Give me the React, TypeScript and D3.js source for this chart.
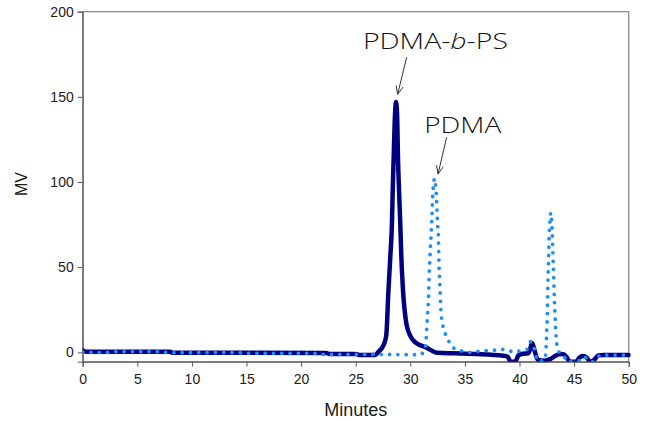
import React, { useEffect, useRef } from 'react';
import * as d3 from 'd3';

// PDMA-b-PS trace (solid navy)
const copolyTime = [0, 0.3, 8, 8.2, 22.3, 22.6, 25, 25.3, 26.8, 27.1, 27.4, 27.6, 27.8, 28.0, 28.17, 28.32, 28.39, 28.48, 28.57, 28.7, 28.8, 28.87, 28.97, 29.08, 29.18, 29.33, 29.63, 29.9, 30.25, 30.8, 31.3, 32.5, 34, 36, 38.5, 38.9, 39.2, 39.6, 39.9, 40.3, 40.8, 41.0, 41.15, 41.3, 41.45, 41.7, 42.3, 42.8, 43.25, 43.6, 43.9, 44.3, 44.6, 45.2, 45.5, 45.8, 46.1, 46.5, 46.9, 47.2, 47.7, 50];
const copolyMV = [1.2, 0.4, 0.4, -0.2, -0.4, -1.0, -1.0, -1.5, -1.5, 0.5, 2.5, 5, 10, 36.6, 56, 76, 95, 115, 135, 147, 138, 115, 95, 76, 56, 36.6, 17.2, 11, 7.2, 4.5, 3.3, -0.3, -0.6, -1, -2, -2.5, -5.5, -5.5, -1.8, -0.8, -0.5, 2.5, 5.5, 3, -0.6, -4.5, -5, -4, -2.2, -1.2, -1, -2.6, -5.5, -5.5, -3, -2.2, -2.8, -5.5, -4, -1.8, -1.5, -1.5];

// PDMA trace (dotted blue)
const homoTime = [0, 2, 3, 7, 8, 14, 15, 21.5, 22, 26, 30.9, 31.35, 31.44, 31.5, 31.56, 31.65, 31.7, 31.74, 31.8, 31.87, 31.93, 32.0, 32.05, 32.12, 32.22, 32.33, 32.42, 32.5, 32.56, 32.63, 32.72, 32.8, 32.97, 33.2, 33.5, 33.9, 34.7, 35.6, 36.4, 37.1, 37.9, 38.7, 39.4, 40.2, 40.7, 41.0, 41.3, 41.5, 41.65, 42.2, 42.4, 42.48, 42.55, 42.6, 42.68, 42.73, 42.8, 42.87, 42.95, 43.0, 43.1, 43.2, 43.3, 43.45, 43.6, 44.0, 44.2, 44.4, 45.4, 45.8, 46.2, 46.7, 47.1, 47.4, 50];
const homoMV = [0.3, -0.2, 0.4, 0.4, -0.2, -0.2, -0.6, -0.6, -1.2, -1.2, -1.4, 2.3, 7, 13, 20, 30, 38.5, 47, 56, 65, 72, 83, 92, 98, 102, 97, 88, 75, 70, 52, 37.6, 25, 16, 11, 6.8, 2.9, 0.8, 0, 0.8, 1, 1.35, 1.8, 0.35, 1, 1.8, 6.2, 3.3, -1.6, -5, -5, -1, 10, 23, 40, 58, 70, 78, 82, 76, 70, 50, 31, 15, 3.3, 0.4, -1.6, -3.5, -5.5, -5, -2.6, -3.5, -5.5, -3.5, -1.6, -1.6];

const xTicks = [0, 5, 10, 15, 20, 25, 30, 35, 40, 45, 50];
const yTicks = [0, 50, 100, 150, 200];

// annotations: [label time, label MV, arrow start t, arrow start MV, arrow tip t, arrow tip MV]
const labelCopoly = [32.3, 178, 29.67, 173.3, 28.84, 151.5];
const labelHomo = [34.8, 128.7, 33.33, 126.3, 32.54, 104.7];

export default function App() {
  const svgRef = useRef<SVGSVGElement>(null);

  useEffect(() => {
    const width = 649;
    const height = 421;
    const margin = { top: 11.7, right: 20.3, bottom: 59.3, left: 82.7 };
    const innerW = width - margin.left - margin.right;
    const innerH = height - margin.top - margin.bottom;

    const svg = d3.select(svgRef.current);
    svg.selectAll('*').remove();
    svg.attr('width', width).attr('height', height);
    svg.append('rect').attr('width', width).attr('height', height).attr('fill', '#fff');

    const g = svg.append('g').attr('transform', `translate(${margin.left},${margin.top})`);

    const x = d3.scaleLinear().domain([0, 50]).range([0, innerW]);
    const y = d3.scaleLinear().domain([-5.5, 200]).range([innerH, 0]);

    svg.append('defs').append('clipPath').attr('id', 'plot-clip')
      .append('rect').attr('x', 0).attr('y', -4).attr('width', innerW + 2).attr('height', innerH + 4);

    // frame
    g.append('rect').attr('width', innerW).attr('height', innerH)
      .attr('fill', 'none').attr('stroke', '#8a8a8a').attr('stroke-width', 1.3);

    const font = 'Liberation Sans, Arial, sans-serif';

    // axes
    const yAxis = g.append('g').call(d3.axisLeft(y).tickValues(yTicks).tickSize(5).tickPadding(4));
    const xAxis = g.append('g').attr('transform', `translate(0,${innerH})`)
      .call(d3.axisBottom(x).tickValues(xTicks).tickSize(5).tickPadding(7));
    [yAxis, xAxis].forEach(ax => {
      ax.select('.domain').attr('stroke', '#555');
      ax.selectAll('line').attr('stroke', '#555');
      ax.selectAll('text').attr('font-family', font).attr('font-size', '14px').attr('fill', '#1a1a1a');
    });

    // series
    const line = (ts: number[], vs: number[]) => d3.line<number>()
      .x((_, i) => x(ts[i])).y(d => y(d)).curve(d3.curveMonotoneX)(vs);

    const plot = g.append('g').attr('clip-path', 'url(#plot-clip)');
    plot.append('path').attr('d', line(copolyTime, copolyMV) as string)
      .attr('fill', 'none').attr('stroke', '#000080').attr('stroke-width', 4.5)
      .attr('stroke-linejoin', 'round').attr('stroke-linecap', 'round');
    plot.append('path').attr('d', line(homoTime, homoMV) as string)
      .attr('fill', 'none').attr('stroke', '#1C8CFF').attr('stroke-width', 3.8)
      .attr('stroke-dasharray', '0 8.3').attr('stroke-linecap', 'round');

    // axis titles
    g.append('text').attr('x', innerW / 2).attr('y', innerH + 54)
      .attr('text-anchor', 'middle').attr('font-family', font).attr('font-size', '18px').attr('fill', '#1a1a1a')
      .text('Minutes');
    g.append('text').attr('transform', 'rotate(-90)').attr('x', -(y(100) + 2)).attr('y', -56)
      .attr('text-anchor', 'middle').attr('font-family', font).attr('font-size', '16px').attr('fill', '#1a1a1a')
      .text('MV');

    // annotations
    const annFont = 'Open Sans, Noto Sans, sans-serif';
    const arrow = (a: number[]) => {
      const x1 = x(a[2]), y1 = y(a[3]), x2 = x(a[4]), y2 = y(a[5]);
      const ang = Math.atan2(y2 - y1, x2 - x1);
      const len = 9, spread = 0.4;
      g.append('line').attr('x1', x1).attr('y1', y1).attr('x2', x2).attr('y2', y2)
        .attr('stroke', '#333').attr('stroke-width', 1);
      g.append('path')
        .attr('d', `M${x2 - len * Math.cos(ang - spread)},${y2 - len * Math.sin(ang - spread)}L${x2},${y2}L${x2 - len * Math.cos(ang + spread)},${y2 - len * Math.sin(ang + spread)}`)
        .attr('fill', 'none').attr('stroke', '#333').attr('stroke-width', 1);
    };

    const t1 = g.append('text').attr('x', x(labelCopoly[0])).attr('y', y(labelCopoly[1]))
      .attr('text-anchor', 'middle').attr('font-family', annFont).attr('font-weight', 300)
      .attr('font-size', '22px').attr('fill', '#111')
      .attr('textLength', 145).attr('lengthAdjust', 'spacingAndGlyphs');
    t1.append('tspan').text('PDMA-');
    t1.append('tspan').attr('font-style', 'italic').text('b');
    t1.append('tspan').text('-PS');
    arrow(labelCopoly);

    g.append('text').attr('x', x(labelHomo[0])).attr('y', y(labelHomo[1]))
      .attr('text-anchor', 'middle').attr('font-family', annFont).attr('font-weight', 300)
      .attr('font-size', '22px').attr('fill', '#111')
      .attr('textLength', 77).attr('lengthAdjust', 'spacingAndGlyphs')
      .text('PDMA');
    arrow(labelHomo);
  }, []);

  return (
    <div style={{ position: 'absolute', left: 0, top: 0 }}>
      <svg ref={svgRef} style={{ display: 'block' }} />
    </div>
  );
}
